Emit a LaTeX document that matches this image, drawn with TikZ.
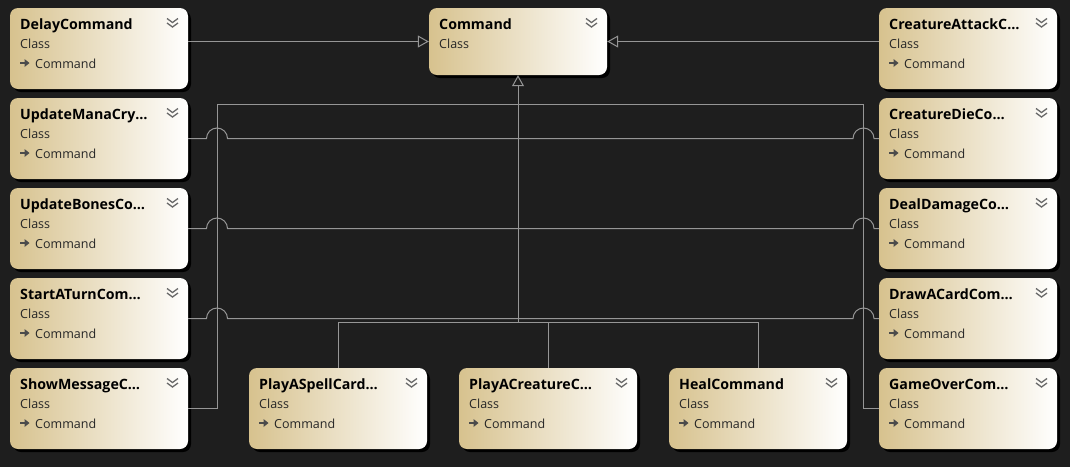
\documentclass[tikz,border=0pt]{standalone}
\usepackage{fontspec}
\setmainfont{Open Sans}
\usetikzlibrary{arrows.meta,shadows,calc}
\definecolor{bg}{RGB}{30,30,30}
\definecolor{boxtan}{RGB}{215,194,142}
\definecolor{connc}{RGB}{150,150,150}
\definecolor{chevc}{RGB}{105,105,105}
\definecolor{iconc}{RGB}{75,75,75}
\tikzset{
  cls/.style={rounded corners=8pt, minimum width=178pt, inner sep=0pt,
    left color=boxtan, right color=white,
    drop shadow={shadow xshift=3pt, shadow yshift=-3pt, fill=black, opacity=1}},
  ttl/.style={font=\fontsize{14.2}{16}\selectfont\bfseries, anchor=base west, inner sep=0pt, text=black},
  sub/.style={font=\fontsize{12.5}{14}\selectfont, anchor=base west, inner sep=0pt, text=black!85},
  conn/.style={draw=connc, line width=1pt},
  inh/.style={conn, -{Triangle[open, length=11pt, width=12pt, fill=bg]}},
  chevs/.style={draw=chevc, line width=1.3pt},
  iconl/.style={draw=iconc, line width=1.6pt},
}
\newcommand\chevmark[2]{%
  \draw[chevs] (#1+157,#2+10.5) -- (#1+162.5,#2+14.5) -- (#1+168,#2+10.5);
  \draw[chevs] (#1+157,#2+15) -- (#1+162.5,#2+19) -- (#1+168,#2+15);
}
\newcommand\classbox[4]{%
  \node[cls, minimum height=81pt] (#1) at (#2+89, #3+40.5) {};
  \node[ttl] (#1-t) at (#2+10, #3+21) {#4};
  \node[sub] (#1-c) at (#2+10, #3+40) {Class};
  \node[sub] (#1-b) at (#2+25, #3+60) {Command};
  \draw[iconl] (#2+10, #3+55) -- (#2+16, #3+55);
  \fill[iconc] (#2+14.5, #3+51) -- (#2+19.5, #3+55) -- (#2+14.5, #3+59) -- cycle;
  \chevmark{#2}{#3}
}
\begin{document}
\begin{tikzpicture}[x=1pt,y=-1pt]
\fill[bg] (0,0) rectangle (1070,467);
\useasboundingbox (0,0) rectangle (1070,467);

% base class
\node[cls, minimum height=67pt] (cmd) at (518, 41.5) {};
\node[ttl] (cmd-t) at (439, 29) {Command};
\node[sub] (cmd-c) at (439, 48) {Class};
\chevmark{429}{8}

% left column
\classbox{dly}{10}{8}{DelayCommand}
\classbox{umc}{10}{98}{UpdateManaCry…}
\classbox{ubc}{10}{188}{UpdateBonesCo…}
\classbox{sat}{10}{278}{StartATurnCom…}
\classbox{smc}{10}{368}{ShowMessageC…}
% right column
\classbox{cac}{879}{8}{CreatureAttackC…}
\classbox{cdc}{879}{98}{CreatureDieCo…}
\classbox{ddc}{879}{188}{DealDamageCo…}
\classbox{dac}{879}{278}{DrawACardCom…}
\classbox{goc}{879}{368}{GameOverCom…}
% bottom row
\classbox{pas}{249}{368}{PlayASpellCard…}
\classbox{pac}{459}{368}{PlayACreatureC…}
\classbox{hc}{669}{368}{HealCommand}

% junction coordinates
\coordinate (lv) at (217,104);
\coordinate (rv) at (863.5,104);
\coordinate (busj) at (518,322);

% direct inheritance
\draw[inh] (cmd.west -| dly.east) -- (cmd.west);
\draw[inh] (cmd.east -| cac.west) -- (cmd.east);
% trunk
\draw[inh] (busj) -- (cmd.south);
% bottom bus
\draw[conn] (pas.north) -- (pas.north |- busj) -- (hc.north |- busj) -- (hc.north);
\draw[conn] (pac.north) -- (pac.north |- busj);
% outer loop
\draw[conn] (smc.east) -- (smc.east -| lv) -- (lv) -- (rv) -- (rv |- goc.west) -- (goc.west);
% row lines with hops
\foreach \l/\r in {umc/cdc, ubc/ddc, sat/dac}{
  \draw[conn] (\l.east) -- ($(lv |- \l.east)+(-10.5,0)$)
    arc[start angle=180, end angle=0, radius=10.5pt]
    -- ($(rv |- \r.west)+(-10.5,0)$)
    arc[start angle=180, end angle=0, radius=10.5pt]
    -- (\r.west);
}
\end{tikzpicture}
\end{document}
